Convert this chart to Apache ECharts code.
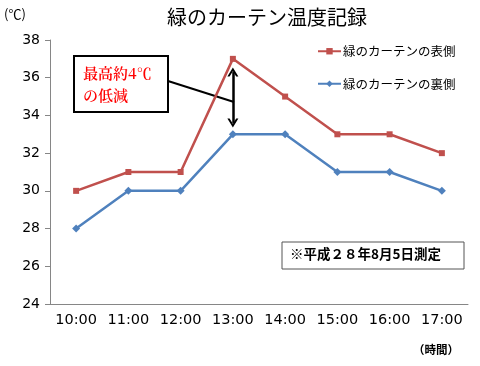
<!DOCTYPE html>
<html><head><meta charset="utf-8">
<script src="https://cdn.jsdelivr.net/npm/echarts@6/dist/echarts.min.js"></script>
<style>html,body{margin:0;padding:0;background:#fff}#c{width:480px;height:366px}</style>
</head><body><div id="c"></div>
<script>
const categories = ['10:00','11:00','12:00','13:00','14:00','15:00','16:00','17:00'];
const outside = [30,31,31,37,35,33,33,32];
const inside = [28,30,30,33,33,31,31,30];
const seriesNames = ['緑のカーテンの表側','緑のカーテンの裏側'];
const yTicks = {min:24, max:38, interval:2};

const chart = echarts.init(document.getElementById('c'));
const jp = '"Noto Sans CJK JP", sans-serif';
const chevron = 'path://M0,10L5,0L10,10L8,10L5,4L2,10Z';
chart.setOption({
  animation:false,
  backgroundColor:'#fff',
  title:{text:'緑のカーテン温度記録', left:262, top:2, textAlign:'center',
    textStyle:{fontFamily:jp, fontSize:20, fontWeight:'normal', color:'#000'}},
  legend:{orient:'vertical', left:312, top:40, itemGap:20, itemWidth:23, itemHeight:8,
    textStyle:{fontFamily:jp, fontSize:12.5, color:'#000', padding:[0,0,0,-3]},
    data:[{name:seriesNames[0]},{name:seriesNames[1]}]},
  grid:{left:50, right:12, top:40, bottom:62},
  xAxis:{type:'category', data:categories, boundaryGap:true,
    axisLine:{lineStyle:{color:'#868686'}}, axisTick:{lineStyle:{color:'#868686'}, length:5},
    axisLabel:{interval:0, color:'#000', fontFamily:'"DejaVu Sans", sans-serif', fontSize:14.5, margin:9}},
  yAxis:{type:'value', min:yTicks.min, max:yTicks.max, interval:yTicks.interval,
    axisLine:{show:true, lineStyle:{color:'#868686'}}, axisTick:{show:true, length:5, lineStyle:{color:'#868686'}},
    splitLine:{show:false},
    axisLabel:{color:'#000', fontFamily:'"DejaVu Sans", sans-serif', fontSize:14, margin:10}},
  series:[
    {name:seriesNames[0], type:'line', data:outside, symbol:'rect', symbolSize:6,
      itemStyle:{color:'#C0504D'}, lineStyle:{width:2.5, color:'#C0504D'},
      markLine:{silent:true, symbol:[chevron,chevron], symbolSize:[11,9],
        itemStyle:{color:'#000'},
        lineStyle:{color:'#000', width:2.5, type:'solid'}, label:{show:false},
        data:[[{coord:['13:00',36.3]},{coord:['13:00',33.6]}]]}},
    {name:seriesNames[1], type:'line', data:inside, symbol:'diamond', symbolSize:8,
      itemStyle:{color:'#4F81BD'}, lineStyle:{width:2.5, color:'#4F81BD'}}
  ],
  graphic:[
    {type:'text', left:4, top:8, style:{text:'(℃)', fontFamily:jp, fontSize:13, fill:'#000'}},
    {type:'text', left:413, top:344, style:{text:'（時間）', fontFamily:jp, fontSize:11.5, fontWeight:'bold', fill:'#000'}},
    {type:'line', shape:{x1:168, y1:81, x2:234, y2:102}, style:{stroke:'#000', lineWidth:2}},
    {type:'rect', shape:{x:74, y:56, width:94, height:56}, style:{fill:'#fff', stroke:'#000', lineWidth:2}},
    {type:'text', left:83, top:62, style:{text:'最高約4℃\nの低減', fontFamily:'"Noto Serif CJK JP", "Noto Sans CJK JP", serif', fontSize:15, fontWeight:600, lineHeight:22, fill:'#FF0000'}},
    {type:'rect', shape:{x:282, y:242, width:182, height:27}, style:{fill:'#fff', stroke:'#555', lineWidth:1}},
    {type:'text', left:290, top:247, style:{text:'※平成２８年8月5日測定', fontFamily:jp, fontSize:13.5, fontWeight:'bold', fill:'#000'}}
  ]
});
</script></body></html>
